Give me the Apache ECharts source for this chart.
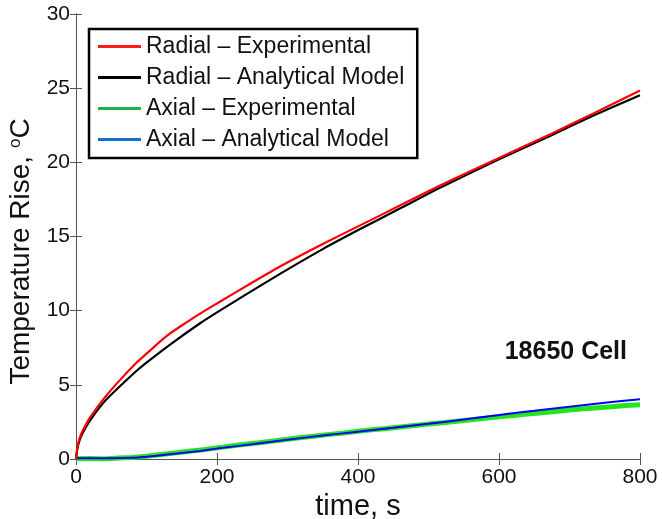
<!DOCTYPE html>
<html>
<head>
<meta charset="utf-8">
<script src="https://cdn.jsdelivr.net/npm/echarts@6/dist/echarts.min.js"></script>
<style>
  html, body { margin: 0; padding: 0; background: #fff; }
  #chart { width: 662px; height: 519px; }
</style>
</head>
<body>
<div id="chart"></div>
<script>
// Temperature rise of an 18650 cell: radial and axial, measured vs. analytical model
const seriesNames = [
  'Radial \u2013 Experimental',
  'Radial \u2013 Analytical Model',
  'Axial \u2013 Experimental',
  'Axial \u2013 Analytical Model'
];

// time (s), temperature rise (°C)
const radialExpTime = [0, 2, 5, 10, 20, 40, 60, 86, 100, 120, 133, 150, 176, 204, 250, 290, 350, 403, 460, 517, 600, 673, 734, 800];
const radialExpRise = [0, 0.8, 1.4, 1.95, 2.8, 4.1, 5.2, 6.5, 7.1, 7.95, 8.45, 9.0, 9.8, 10.6, 11.9, 13.0, 14.5, 15.75, 17.1, 18.45, 20.3, 21.9, 23.3, 24.85];

const radialModelTime = [0, 2, 5, 10, 20, 40, 60, 86, 100, 133, 176, 204, 250, 290, 350, 403, 460, 517, 600, 673, 734, 800];
const radialModelRise = [0, 0.7, 1.25, 1.8, 2.6, 3.85, 4.8, 5.95, 6.5, 7.7, 9.15, 10.0, 11.35, 12.5, 14.15, 15.5, 16.9, 18.3, 20.2, 21.8, 23.15, 24.53];

const axialExpTime = [0, 20, 40, 60, 80, 100, 120, 140, 160, 180, 200, 220, 240, 260, 280, 300, 320, 340, 360, 380, 400, 420, 440, 460, 480, 500, 520, 540, 560, 580, 600, 620, 640, 660, 680, 700, 720, 740, 760, 780, 800];
const axialExpRise = [0.02, 0.03, 0.0, 0.06, 0.1, 0.18, 0.3, 0.4, 0.52, 0.62, 0.75, 0.88, 1.0, 1.1, 1.22, 1.33, 1.45, 1.55, 1.66, 1.76, 1.87, 1.97, 2.06, 2.16, 2.26, 2.36, 2.45, 2.55, 2.64, 2.74, 2.85, 2.93, 3.03, 3.12, 3.2, 3.3, 3.38, 3.46, 3.53, 3.6, 3.65];

const axialModelTime = [0, 50, 80, 100, 130, 150, 176, 200, 250, 300, 350, 400, 450, 500, 550, 600, 650, 700, 750, 800];
const axialModelRise = [0.05, 0.05, 0.08, 0.15, 0.3, 0.4, 0.54, 0.7, 1.0, 1.3, 1.58, 1.84, 2.1, 2.37, 2.66, 2.97, 3.25, 3.53, 3.79, 4.03];

const xTicks = { min: 0, max: 800, interval: 200 };
const yTicks = { min: 0, max: 30, interval: 5 };

const plotColors = ['#ff0000', '#000000', '#22e61c', '#0000ff'];
const legendColors = ['#ff1a1a', '#000000', '#1db14b', '#1170d0'];

const FONT = '"Liberation Sans", Arial, Helvetica, sans-serif';

function pairs(xs, ys) { return xs.map((x, i) => [x, ys[i]]); }

const chart = echarts.init(document.getElementById('chart'), null, { renderer: 'canvas' });

const axisLine = { show: true, lineStyle: { color: '#555', width: 1 } };
const axisTick = { show: true, inside: true, length: 6, lineStyle: { color: '#555', width: 1 } };
const labelStyle = { color: '#111', fontSize: 21, fontFamily: FONT };

chart.setOption({
  animation: false,
  backgroundColor: '#fff',
  grid: { left: 76, right: 22, top: 14, bottom: 60, show: false, outerBoundsMode: 'none', containLabel: false },
  legend: {
    left: 89, top: 29,
    orient: 'vertical',
    icon: 'rect',
    itemWidth: 43,
    itemHeight: 3,
    itemGap: 8,
    padding: [6, 13, 7, 9],
    borderColor: '#000',
    borderWidth: 2.5,
    backgroundColor: '#fff',
    textStyle: { color: '#111', fontSize: 23, fontFamily: FONT, lineHeight: 23 },
    data: seriesNames.map((n, i) => ({ name: n, itemStyle: { color: legendColors[i] } }))
  },
  xAxis: [
    {
      type: 'value', ...xTicks,
      name: 'time, s', nameLocation: 'middle', nameGap: 26,
      nameTextStyle: { color: '#111', fontSize: 29, fontFamily: FONT },
      axisLine, axisTick, splitLine: { show: false },
      axisLabel: { ...labelStyle, margin: 8 }
    },
    {
      type: 'value', ...xTicks, position: 'top',
      axisLine, axisTick, splitLine: { show: false }, axisLabel: { show: false }
    }
  ],
  yAxis: [
    {
      type: 'value', ...yTicks,
      name: 'Temperature Rise, {sup|o}C', nameLocation: 'middle', nameGap: 38,
      nameTextStyle: {
        color: '#111', fontSize: 28, fontFamily: FONT, padding: [0, 30, 0, 0],
        rich: { sup: { fontSize: 17, fontFamily: FONT, color: '#111', verticalAlign: 'top', padding: [0, 0, 12, 0] } }
      },
      axisLine, axisTick, splitLine: { show: false },
      axisLabel: { ...labelStyle, margin: 6 }
    },
    {
      type: 'value', ...yTicks, position: 'right',
      axisLine, axisTick, splitLine: { show: false }, axisLabel: { show: false }
    }
  ],
  series: [
    {
      name: seriesNames[0], type: 'line', data: pairs(radialExpTime, radialExpRise),
      showSymbol: false, smooth: 0.2, z: 5,
      lineStyle: { color: plotColors[0], width: 2.2 }, itemStyle: { color: plotColors[0] }
    },
    {
      name: seriesNames[1], type: 'line', data: pairs(radialModelTime, radialModelRise),
      showSymbol: false, smooth: 0.2, z: 4,
      lineStyle: { color: plotColors[1], width: 2.2 }, itemStyle: { color: plotColors[1] }
    },
    {
      name: seriesNames[2], type: 'line', data: pairs(axialExpTime, axialExpRise),
      showSymbol: false, z: 2,
      lineStyle: { color: plotColors[2], width: 5 }, itemStyle: { color: plotColors[2] }
    },
    {
      name: seriesNames[3], type: 'line', data: pairs(axialModelTime, axialModelRise),
      showSymbol: false, smooth: 0.2, z: 3,
      lineStyle: { color: plotColors[3], width: 2 }, itemStyle: { color: plotColors[3] }
    }
  ],
  graphic: [
    {
      type: 'text', right: 35, top: 340, z: 10,
      style: { text: '18650 Cell', font: 'bold 25px ' + FONT, fill: '#111' }
    }
  ]
});
</script>
</body>
</html>
